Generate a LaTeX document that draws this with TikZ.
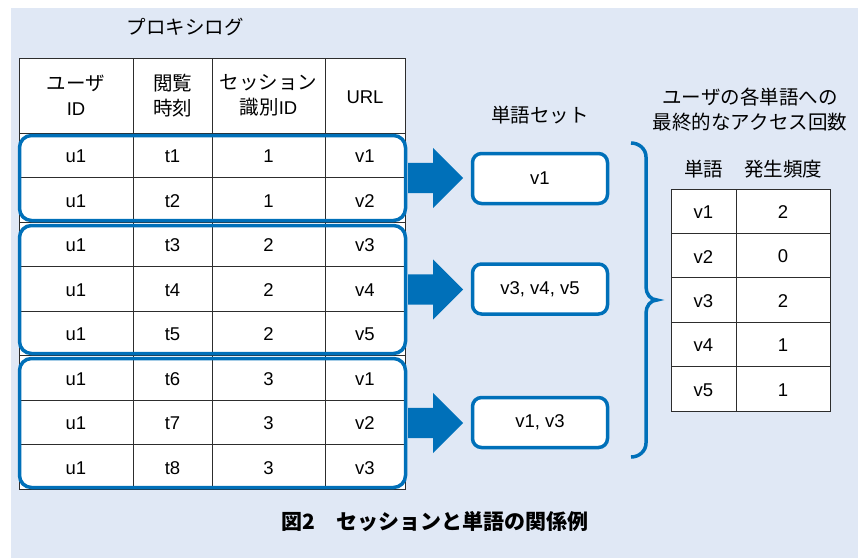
\documentclass[tikz,border=0pt]{standalone}
\usepackage{fontspec}
\setmainfont{Liberation Sans}
\newfontfamily\jp{Noto Sans CJK JP}
\usetikzlibrary{shapes.arrows}
\definecolor{bg}{RGB}{224,232,245}
\definecolor{blu}{RGB}{0,112,185}
\definecolor{gridc}{RGB}{45,45,45}
\newcommand{\J}[1]{{\jp\fontsize{19.5}{25}\selectfont #1}}
\tikzset{
  lat/.style={inner sep=0pt, align=center, font=\fontsize{18.5}{25}\selectfont},
  jpt/.style={inner sep=0pt, align=center, font=\fontsize{19.5}{25}\selectfont\jp},
  gridline/.style={draw=gridc, line width=0.9pt},
  group/.style={draw=blu, line width=3.5pt, rounded corners=12pt, inner sep=0pt, minimum width=386pt},
  wbox/.style={draw=blu, line width=3.5pt, rounded corners=9pt, fill=white, minimum width=135pt, minimum height=50pt, inner sep=0pt, font=\fontsize{18.5}{25}\selectfont},
  barrow/.style={single arrow, fill=blu, draw=none, minimum height=55pt, single arrow head extend=15pt, inner xsep=0pt, inner ysep=15pt, anchor=tail},
  bracestyle/.style={draw=blu, line width=3.5pt},
}
\begin{document}
\begin{tikzpicture}[x=1pt,y=-1pt]
\useasboundingbox (0,0) rectangle (858,558);
\fill[white] (0,0) rectangle (858,558);
\fill[bg] (11,8) rectangle (858,558);

% title
\node[jpt] (title) at (185,27) {プロキシログ};

% left table
\fill[white] (19,58) rectangle (405,489);
\draw[gridline] (19,58) rectangle (405,489);
\foreach \x in {133,212,325} \draw[gridline] (\x,58) -- (\x,489);
\foreach \k in {0,...,7} \draw[gridline] (19,{133+44.5*\k}) -- (405,{133+44.5*\k});

\node[lat] (h1) at (76,95.5) {\J{ユーザ}\\ID};
\node[lat] (h2) at (172.5,95.5) {\J{閲覧}\\\J{時刻}};
\node[lat] (h3) at (268.5,95.5) {\J{セッション}\\\J{識別}ID};
\node[lat] (h4) at (365,97) {URL};

\foreach \t/\s/\u [count=\i] in {t1/1/v1,t2/1/v2,t3/2/v3,t4/2/v4,t5/2/v5,t6/3/v1,t7/3/v2,t8/3/v3}{
  \pgfmathsetmacro{\yy}{133+44.5*(\i-0.5)+1}
  \node[lat] (u\i) at (76,\yy) {u1};
  \node[lat] (t\i) at (172.5,\yy) {\t};
  \node[lat] (s\i) at (268.5,\yy) {\s};
  \node[lat] (r\i) at (365,\yy) {\u};
}

% session groups
\node[group, minimum height=85pt] (g1) at (212.5,178) {};
\node[group, minimum height=128pt] (g2) at (212.5,289.5) {};
\node[group, minimum height=129pt] (g3) at (212.5,423) {};

% word sets
\node[jpt] (wlabel) at (540,115) {単語セット};
\node[wbox] (w1) at (540,178.5) {v1};
\node[wbox] (w2) at (540,289) {v3, v4, v5};
\node[wbox] (w3) at (540,422.5) {v1, v3};

% block arrows
\node[barrow] (a1) at (408,178) {};
\node[barrow] (a2) at (408,289.5) {};
\node[barrow] (a3) at (408,423) {};

% brace
\coordinate (bt) at (631,143);
\coordinate (bm) at (657,300);
\coordinate (bb) at (631,457);
\draw[bracestyle] (bt) to[out=0,in=90] (646,157) -- (646,287) to[out=-90,in=180] (bm)
  to[out=180,in=90] (646,313) -- (646,443) to[out=-90,in=0] (bb);

% right table
\node[jpt] (rtitle) at (750,110) {ユーザの各単語への\\最終的なアクセス回数};
\node[jpt] (rh1) at (703.5,169) {単語};
\node[jpt] (rh2) at (783,169) {発生頻度};
\fill[white] (671,189) rectangle (830,411);
\draw[gridline] (671,189) rectangle (830,411);
\draw[gridline] (736,189) -- (736,411);
\foreach \k in {1,...,4} \draw[gridline] (671,{189+44.4*\k}) -- (830,{189+44.4*\k});
\foreach \w/\f [count=\i] in {v1/2,v2/0,v3/2,v4/1,v5/1}{
  \pgfmathsetmacro{\yy}{189+44.4*(\i-0.5)+1}
  \node[lat] (rw\i) at (703.5,\yy) {\w};
  \node[lat] (rf\i) at (783,\yy) {\f};
}

% caption
\node[inner sep=0pt, font=\fontsize{21}{25}\selectfont\jp\bfseries] (cap) at (435,522) {図2　セッションと単語の関係例};
\end{tikzpicture}
\end{document}
